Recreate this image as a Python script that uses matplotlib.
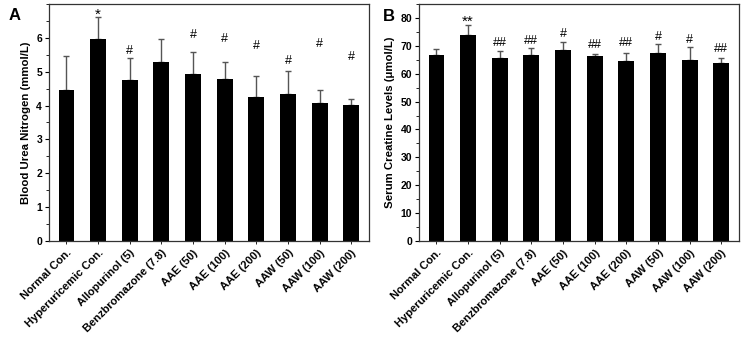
import numpy as np
import matplotlib
matplotlib.use("Agg")
import matplotlib.pyplot as plt
from matplotlib.ticker import MultipleLocator

plt.rcParams['font.family'] = ['Liberation Sans', 'DejaVu Sans']
plt.rcParams['font.weight'] = 'bold'

grupos = ['Normal Con.', 'Hyperuricemic Con.', 'Allopurinol (5)', 'Benzbromazone (7.8)',
          'AAE (50)', 'AAE (100)', 'AAE (200)', 'AAW (50)', 'AAW (100)', 'AAW (200)']

# panel A: blood urea nitrogen
bun = [4.47, 5.98, 4.76, 5.30, 4.93, 4.80, 4.26, 4.33, 4.07, 4.02]
bun_err = [0.99, 0.64, 0.65, 0.66, 0.66, 0.50, 0.62, 0.68, 0.39, 0.17]
bun_marca = ['', '*', '#', '', '#', '#', '#', '#', '#', '#']
bun_marca_y = [0, 6.68, 5.60, 0, 6.10, 5.97, 5.75, 5.33, 5.82, 5.44]

# panel B: serum creatine
scr = [66.6, 73.9, 65.8, 66.6, 68.4, 66.2, 64.5, 67.4, 65.0, 63.7]
scr_err = [2.3, 3.6, 2.2, 2.6, 3.1, 0.7, 2.9, 3.3, 4.6, 1.9]
scr_marca = ['', '**', '##', '##', '#', '##', '##', '#', '#', '##']
scr_marca_y = [0, 78.6, 71.0, 71.9, 74.4, 70.4, 71.0, 73.0, 72.2, 68.9]

fig = plt.figure(figsize=(7.43, 3.37), dpi=100)
axA = fig.add_axes([0.066, 0.285, 0.431, 0.703])
axB = fig.add_axes([0.564, 0.285, 0.431, 0.703])

x = np.arange(len(grupos))

def panel(ax, vals, errs, marcas, marcas_y, ymax, paso, menor, ylabel):
    ax.bar(x, vals, width=0.5, color='black', zorder=2)
    ax.errorbar(x, vals, yerr=[np.zeros(len(vals)), errs], fmt='none',
                ecolor='#555555', elinewidth=1.0, capsize=2.5, capthick=1.0, zorder=1)
    for xi, m, my in zip(x, marcas, marcas_y):
        if m:
            tam = 11 if '*' in m else 9
            ax.text(xi, my, m, ha='center', va='center', fontsize=tam, fontweight='normal')
    ax.set_xlim(-0.55, 9.57)
    ax.set_ylim(0, ymax)
    ax.yaxis.set_minor_locator(MultipleLocator(menor))
    ax.set_yticks(np.arange(0, ymax, paso))
    ax.set_xticks(x)
    ax.set_xticklabels(grupos, rotation=45, ha='right', rotation_mode='anchor',
                       fontsize=8, fontweight='bold')
    ax.tick_params(axis='y', labelsize=7.5, length=3, width=0.8, pad=2)
    ax.tick_params(axis='y', which='minor', length=2, width=0.6)
    ax.tick_params(axis='x', length=2, width=0.6, pad=3)
    for lbl in ax.get_yticklabels():
        lbl.set_fontweight('bold')
    for s in ax.spines.values():
        s.set_linewidth(0.9)
        s.set_color('#333333')
    ax.set_ylabel(ylabel, fontsize=8.2, fontweight='bold', labelpad=4)

panel(axA, bun, bun_err, bun_marca, bun_marca_y, 7, 1, 0.5, 'Blood Urea Nitrogen (mmol/L)')
panel(axB, scr, scr_err, scr_marca, scr_marca_y, 85, 10, 5, 'Serum Creatine Levels (\u03bcmol/L)')

fig.text(0.012, 0.955, 'A', fontsize=12, fontweight='bold', va='center')
fig.text(0.515, 0.952, 'B', fontsize=12, fontweight='bold', va='center')

fig.savefig('out.png', dpi=100)
